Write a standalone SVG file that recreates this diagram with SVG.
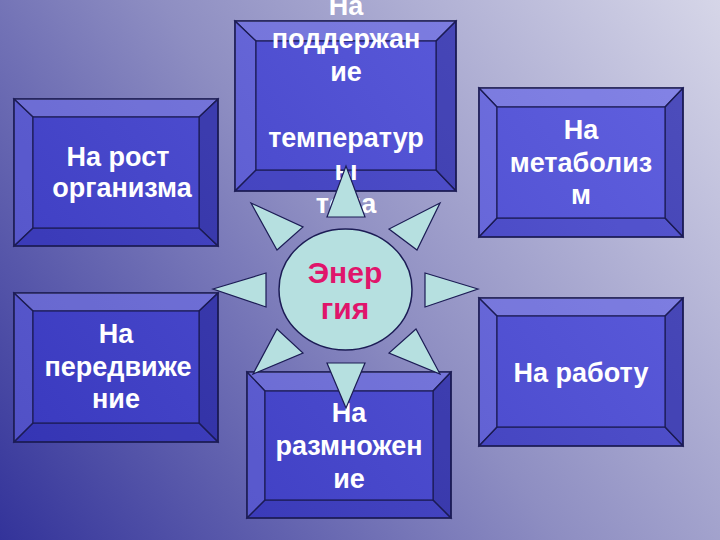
<svg xmlns="http://www.w3.org/2000/svg" width="720" height="540" viewBox="0 0 720 540">
<defs>
<linearGradient id="bg" gradientUnits="userSpaceOnUse" x1="0" y1="540" x2="720" y2="0">
<stop offset="0" stop-color="#33339a"/>
<stop offset="0.5" stop-color="#8e8ec2"/>
<stop offset="1" stop-color="#d6d6e8"/>
</linearGradient>
<linearGradient id="face" gradientUnits="userSpaceOnUse" x1="0" y1="540" x2="720" y2="0">
<stop offset="0" stop-color="#3636bc"/>
<stop offset="1" stop-color="#6464e2"/>
</linearGradient>
<style>
.face{fill:url(#face);stroke:#1c1c55;stroke-width:1.5}
.bt{fill:#ffffff;fill-opacity:0.22;stroke:#1c1c55;stroke-width:1.2}
.bl{fill:#ffffff;fill-opacity:0.12;stroke:#1c1c55;stroke-width:1.2}
.br{fill:#000030;fill-opacity:0.2;stroke:#1c1c55;stroke-width:1.2}
.bb{fill:#000030;fill-opacity:0.08;stroke:#1c1c55;stroke-width:1.2}
.in{fill:url(#face);stroke:#1c1c55;stroke-width:1.2}
.lbl{font-family:"Liberation Sans",Arial,sans-serif;font-weight:bold;font-size:27px;fill:#ffffff;text-anchor:middle}
.ray{fill:#b6e0e0;stroke:#1c1c55;stroke-width:1.2}
.core{fill:#b6e0e0;stroke:#1c1c55;stroke-width:1.5}
.ctr{font-family:"Liberation Sans",Arial,sans-serif;font-weight:bold;font-size:30px;fill:#e0156b;text-anchor:middle}
</style>
</defs>
<rect x="0" y="0" width="720" height="540" fill="url(#bg)"/>

<g id="box-temperature">
<rect class="face" x="235" y="21" width="221" height="170"/>
<polygon class="bt" points="235,21 456,21 436,41 256,41"/>
<polygon class="bl" points="235,21 256,41 256,170 235,191"/>
<polygon class="br" points="456,21 456,191 436,170 436,41"/>
<polygon class="bb" points="235,191 256,170 436,170 456,191"/>
<rect class="in" x="256" y="41" width="180" height="129"/>
<text class="lbl" x="346" y="15">На</text>
<text class="lbl" x="346" y="48">поддержан</text>
<text class="lbl" x="346" y="81">ие</text>
<text class="lbl" x="346" y="147">температур</text>
<text class="lbl" x="346" y="180">ы</text>
<text class="lbl" x="346" y="213">тела</text>
</g>

<g id="box-growth">
<rect class="face" x="14" y="99" width="204" height="147"/>
<polygon class="bt" points="14,99 218,99 199,117 33,117"/>
<polygon class="bl" points="14,99 33,117 33,228 14,246"/>
<polygon class="br" points="218,99 218,246 199,228 199,117"/>
<polygon class="bb" points="14,246 33,228 199,228 218,246"/>
<rect class="in" x="33" y="117" width="166" height="111"/>
<text class="lbl" x="118" y="166">На рост</text>
<text class="lbl" x="122" y="197">организма</text>
</g>

<g id="box-metabolism">
<rect class="face" x="479" y="88" width="204" height="149"/>
<polygon class="bt" points="479,88 683,88 665,107 497,107"/>
<polygon class="bl" points="479,88 497,107 497,218 479,237"/>
<polygon class="br" points="683,88 683,237 665,218 665,107"/>
<polygon class="bb" points="479,237 497,218 665,218 683,237"/>
<rect class="in" x="497" y="107" width="168" height="111"/>
<text class="lbl" x="581" y="139">На</text>
<text class="lbl" x="581" y="172">метаболиз</text>
<text class="lbl" x="581" y="204">м</text>
</g>

<g id="box-movement">
<rect class="face" x="14" y="293" width="204" height="149"/>
<polygon class="bt" points="14,293 218,293 199,311 33,311"/>
<polygon class="bl" points="14,293 33,311 33,423 14,442"/>
<polygon class="br" points="218,293 218,442 199,423 199,311"/>
<polygon class="bb" points="14,442 33,423 199,423 218,442"/>
<rect class="in" x="33" y="311" width="166" height="112"/>
<text class="lbl" x="116" y="343">На</text>
<text class="lbl" x="118" y="376">передвиже</text>
<text class="lbl" x="116" y="408">ние</text>
</g>

<g id="box-reproduction">
<rect class="face" x="247" y="372" width="204" height="146"/>
<polygon class="bt" points="247,372 451,372 433,391 265,391"/>
<polygon class="bl" points="247,372 265,391 265,500 247,518"/>
<polygon class="br" points="451,372 451,518 433,500 433,391"/>
<polygon class="bb" points="247,518 265,500 433,500 451,518"/>
<rect class="in" x="265" y="391" width="168" height="109"/>
<text class="lbl" x="349" y="422">На</text>
<text class="lbl" x="349" y="455">размножен</text>
<text class="lbl" x="349" y="488">ие</text>
</g>

<g id="box-work">
<rect class="face" x="479" y="298" width="204" height="148"/>
<polygon class="bt" points="479,298 683,298 665,316 497,316"/>
<polygon class="bl" points="479,298 497,316 497,427 479,446"/>
<polygon class="br" points="683,298 683,446 665,427 665,316"/>
<polygon class="bb" points="479,446 497,427 665,427 683,446"/>
<rect class="in" x="497" y="316" width="168" height="111"/>
<text class="lbl" x="581" y="382">На работу</text>
</g>

<g id="connectors">
<polygon class="ray" points="346,166 365,217 327,217"/>
<polygon class="ray" points="251,203 303,227 277,250"/>
<polygon class="ray" points="440,203 389,229 417,250"/>
<polygon class="ray" points="213,289 266,273 266,307"/>
<polygon class="ray" points="478,289 425,273 425,307"/>
<polygon class="ray" points="253,374 277,329 303,353"/>
<polygon class="ray" points="440,374 416,329 389,353"/>
<polygon class="ray" points="346,408 327,363 365,363"/>
</g>

<g id="energy">
<ellipse class="core" cx="345.5" cy="289.5" rx="66.5" ry="60.5"/>
<text class="ctr" x="345" y="283">Энер</text>
<text class="ctr" x="345" y="319">гия</text>
</g>
</svg>
